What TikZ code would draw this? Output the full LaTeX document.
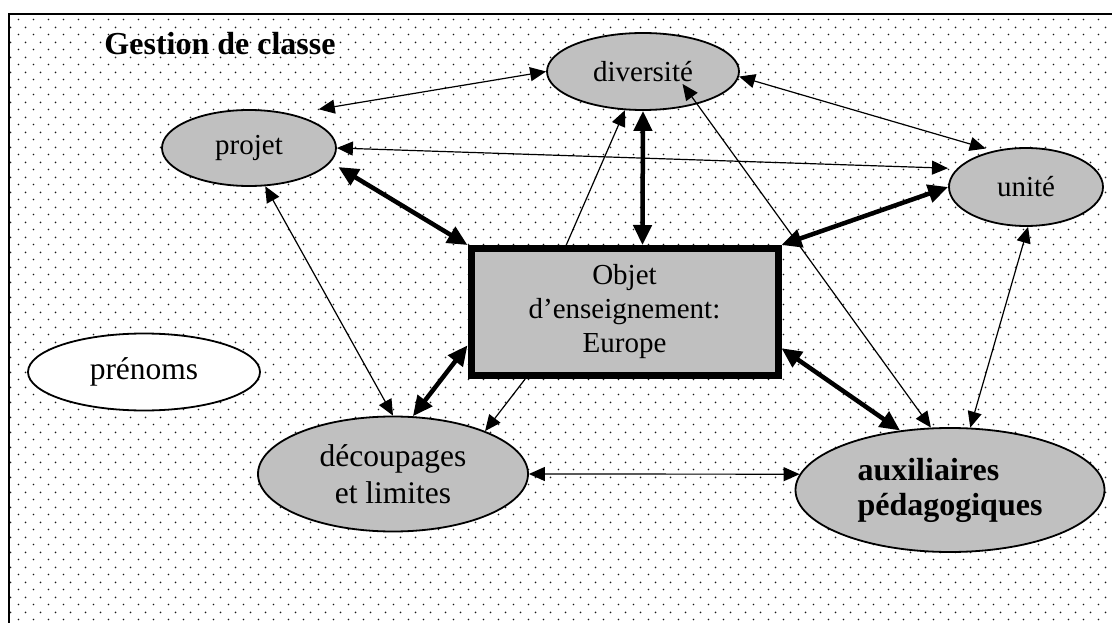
\documentclass[tikz,border=0pt]{standalone}
\usepackage{fontspec}
\setmainfont{Liberation Serif}
\usetikzlibrary{shapes.geometric,arrows.meta,patterns}
\definecolor{wordgray}{RGB}{192,192,192}
\pgfdeclarepatternformonly{worddots}{\pgfqpoint{0pt}{0pt}}{\pgfqpoint{15pt}{15pt}}{\pgfqpoint{15pt}{15pt}}{%
  \pgfpathcircle{\pgfqpoint{3.75pt}{3.75pt}}{1pt}%
  \pgfpathcircle{\pgfqpoint{11.25pt}{11.25pt}}{1pt}%
  \pgfusepath{fill}%
}

\begin{document}
\begin{tikzpicture}[x=1pt,y=-1pt,
  topic/.style={ellipse, draw, line width=1.8pt, fill=wordgray,
    inner sep=0pt, align=center, font=\fontsize{29}{34}\selectfont},
  thinarrow/.style={line width=1.2pt,
    {Triangle[length=16pt,width=14pt]}-{Triangle[length=16pt,width=14pt]}},
  thinone/.style={line width=1.2pt, -{Triangle[length=16pt,width=14pt]}},
  thickarrow/.style={line width=4.5pt,
    {Triangle[length=20pt,width=18pt]}-{Triangle[length=20pt,width=18pt]}}]
  \useasboundingbox (0,0) rectangle (1112,623);
  % dotted page and frame
  \fill[pattern=worddots, pattern color=black!90] (9,14) rectangle (1112,623);
  \draw[line width=2.2pt] (9,623) -- (9,14) -- (1112,14);

  \node[anchor=base, font=\fontsize{32}{36}\selectfont\bfseries] (title) at (220,55) {Gestion de classe};

  \node[topic, minimum width=174pt, minimum height=76pt] (proj) at (249,148) {projet};
  \node[topic, minimum width=192pt, minimum height=77pt] (div) at (643,71.5) {diversité};
  \node[topic, minimum width=154pt, minimum height=78pt] (uni) at (1026,187) {unité};
  \node[draw, line width=7pt, fill=wordgray, inner sep=0pt, align=center,
    minimum width=307pt, minimum height=127pt,
    font=\fontsize{29}{34}\selectfont] (obj) at (624.5,312)
    {Objet\\d’enseignement:\\Europe};
  \node[topic, fill=white, minimum width=232pt, minimum height=77pt,
    font=\fontsize{31.5}{37}\selectfont] (pren) at (144,372) {prénoms};
  \node[topic, minimum width=270pt, minimum height=115pt,
    font=\fontsize{31.5}{37}\selectfont] (dec) at (393,474) {découpages\\et limites};
  \node[topic, minimum width=309pt, minimum height=124pt, align=left,
    font=\fontsize{32}{35}\selectfont\bfseries] (aux) at (950,490) {auxiliaires\\pédagogiques};

  % links
  \draw[thinarrow, shorten <=28pt] (proj.39) -- (div.west);
  \draw[thinarrow, shorten >=8pt] (div.-3) -- (uni.132);
  \draw[thinarrow, shorten >=9pt] (proj.east) -- (uni.165);
  \draw[thickarrow, shorten <=9pt] (proj.-10) -- (obj.north west);
  \draw[thinone] (obj.131) -- (div.245);
  \draw[thickarrow] (div.south) -- (obj.75);
  \draw[thickarrow] (uni.west) -- (obj.north east);
  \draw[thinarrow, shorten >=64pt] (aux.107) -- (div.87);
  \draw[thinarrow] (uni.-87) -- (aux.72);
  \draw[thickarrow] (obj.-13) -- (aux.130);
  \draw[thickarrow] (obj.192) -- (dec.71);
  \draw[thinone] (obj.214) -- (dec.25);
  \draw[thinarrow] (proj.-67) -- (dec.north);
  \draw[thinarrow] (dec.east) -- (aux.174);
\end{tikzpicture}
\end{document}
